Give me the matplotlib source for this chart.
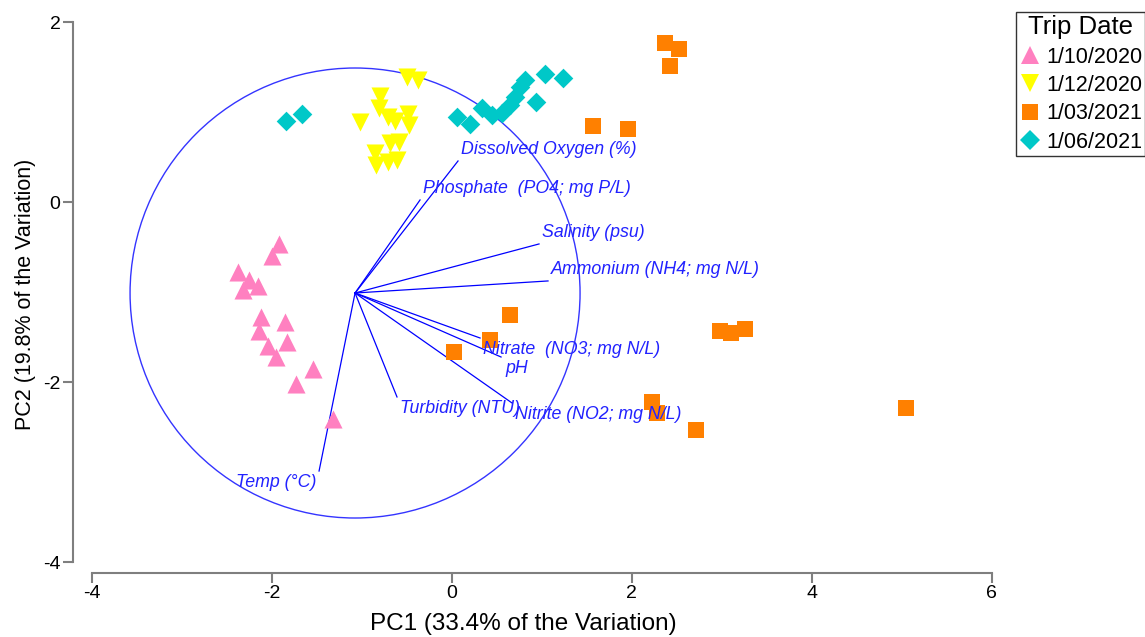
import matplotlib
matplotlib.use("Agg")
import matplotlib.pyplot as plt
from matplotlib.patches import Circle
from matplotlib.lines import Line2D

plt.rcParams['font.family'] = ['Liberation Sans', 'DejaVu Sans']
plt.rcParams['axes.unicode_minus'] = False

# PCA scores per sampling trip
trip_dates = ["1/10/2020", "1/12/2020", "1/03/2021", "1/06/2021"]

pc1_oct2020 = [-1.913, -1.991, -2.369, -2.247, -2.147, -2.320, -2.117, -1.850,
               -2.139, -2.036, -1.824, -1.950, -1.536, -1.728, -1.320]
pc2_oct2020 = [-0.463, -0.593, -0.778, -0.863, -0.927, -0.974, -1.271, -1.327,
               -1.430, -1.593, -1.556, -1.716, -1.856, -2.022, -2.411]

pc1_dec2020 = [-0.491, -0.369, -0.794, -0.802, -1.017, -0.703, -0.628, -0.481,
               -0.472, -0.683, -0.580, -0.850, -0.843, -0.703, -0.610]
pc2_dec2020 = [1.389, 1.359, 1.181, 1.044, 0.896, 0.951, 0.907, 0.981,
               0.859, 0.656, 0.673, 0.544, 0.413, 0.451, 0.470]

pc1_mar2021 = [2.376, 2.531, 2.428, 1.576, 1.961, 0.650, 0.428, 0.031,
               2.224, 2.287, 2.717, 2.983, 3.106, 3.261, 5.050]
pc2_mar2021 = [1.767, 1.700, 1.518, 0.851, 0.811, -1.252, -1.530, -1.667,
               -2.222, -2.344, -2.530, -1.430, -1.452, -1.408, -2.285]

pc1_jun2021 = [-1.839, -1.664, 0.057, 0.206, 0.336, 0.447, 0.558, 0.650,
               0.706, 0.761, 0.817, 0.939, 1.039, 1.236]
pc2_jun2021 = [0.903, 0.981, 0.952, 0.870, 1.044, 0.970, 0.989, 1.081,
               1.170, 1.281, 1.359, 1.118, 1.426, 1.378]

# Variable loadings (vector tips) and the shared origin / correlation circle
variables = ["Dissolved Oxygen (%)", "Phosphate  (PO4; mg P/L)", "Salinity (psu)",
             "Ammonium (NH4; mg N/L)", "Nitrate  (NO3; mg N/L)", "pH",
             "Nitrite (NO2; mg N/L)", "Turbidity (NTU)", "Temp (°C)"]
vec_x = [0.072, -0.350, 0.972, 1.072, 0.317, 0.550, 0.672, -0.606, -1.472]
vec_y = [0.459, 0.026, -0.463, -0.874, -1.508, -1.719, -2.230, -2.163, -2.986]
origin = (-1.072, -1.008)
circle_radius = 2.5

x_label = "PC1 (33.4% of the Variation)"
y_label = "PC2 (19.8% of the Variation)"
x_ticks = [-4, -2, 0, 2, 4, 6]
y_ticks = [-4, -2, 0, 2]

W, H = 1145, 637
fig = plt.figure(figsize=(W / 100, H / 100), dpi=100)
ax = fig.add_axes([73 / W, 1 - 573 / H, (1000 - 73) / W, (573 - 15) / H])
ax.set_xlim(-4.206, 6.094)
ax.set_ylim(-4.119, 2.081)

blue = "#0000FF"
text_blue = "#2222FF"

# correlation circle
ax.add_patch(Circle(origin, circle_radius, fill=False, edgecolor="#3434FF",
                    linewidth=1.0, zorder=1))

# loading vectors and their labels
label_offsets = [(2, 8), (2, 8), (2, 8), (2, 8), (2, -8), (3, -8), (2, -8), (2, -8), (-2, -8)]
for name, vx, vy, off in zip(variables, vec_x, vec_y, label_offsets):
    ax.plot([origin[0], vx], [origin[1], vy], color=blue, linewidth=0.9, zorder=2)
    ha = "right" if off[0] < 0 else "left"
    ax.annotate(name, (vx, vy), xytext=off, textcoords="offset points",
                ha=ha, va="center", fontsize=12.8, style="italic",
                color=text_blue, zorder=4)

# sample scores
groups = [
    (pc1_oct2020, pc2_oct2020, "^", "#FF80C0", 13.0),
    (pc1_dec2020, pc2_dec2020, "v", "#FFFF00", 13.0),
    (pc1_mar2021, pc2_mar2021, "s", "#FF8000", 11.5),
    (pc1_jun2021, pc2_jun2021, "D", "#00C8C8", 10.0),
]
handles = []
for (xs, ys, mk, col, ms), lab in zip(groups, trip_dates):
    ax.scatter(xs, ys, marker=mk, s=ms ** 2, color=col, linewidths=0, zorder=3)
    handles.append(Line2D([], [], linestyle="none", marker=mk, markersize=ms,
                          markerfacecolor=col, markeredgewidth=0, label=lab))

# detached gray spines
for side in ("top", "right"):
    ax.spines[side].set_visible(False)
ax.spines["left"].set_bounds(-4, 2)
ax.spines["bottom"].set_bounds(-4, 6)
for side in ("left", "bottom"):
    ax.spines[side].set_color("#7F7F7F")
    ax.spines[side].set_linewidth(1.5)
ax.set_xticks(x_ticks)
ax.set_yticks(y_ticks)
ax.tick_params(axis="both", direction="out", length=7, width=1.5, color="#7F7F7F",
               labelsize=14, labelcolor="black", pad=2)

ax.set_xlabel(x_label, fontsize=17.5)
ax.xaxis.label.set_verticalalignment("baseline")
ax.xaxis.set_label_coords((523 - 73) / (1000 - 73), (573 - 630) / (573 - 15))
ax.set_ylabel(y_label, fontsize=15.5, labelpad=5)

leg = fig.legend(handles=handles, title="Trip Date", loc="upper left",
                 bbox_to_anchor=(1016 / W, 1 - 12 / H), borderaxespad=0,
                 fontsize=15.5, title_fontsize=18.5, frameon=True, fancybox=False,
                 edgecolor="black", handlelength=1.0, handletextpad=0.25,
                 labelspacing=0.34, borderpad=0.15)
leg.get_frame().set_linewidth(1.0)

fig.savefig("out.png", dpi=100)
